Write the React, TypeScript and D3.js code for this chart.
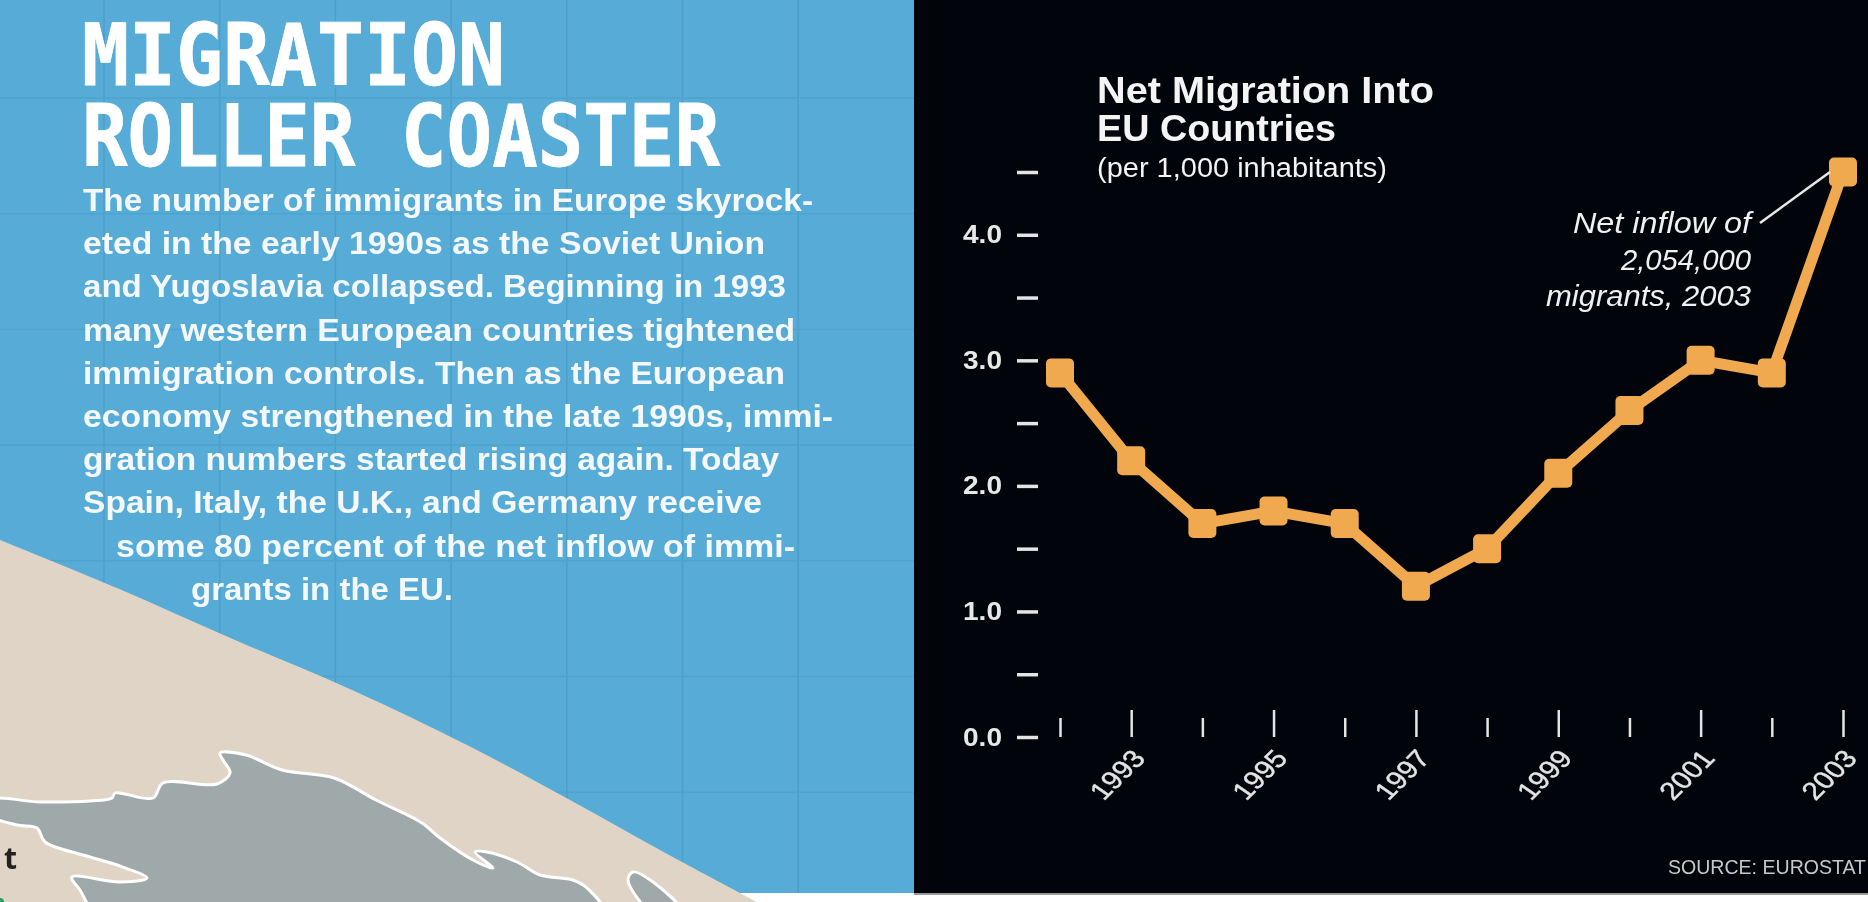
import React, { useEffect, useRef } from 'react';
import * as d3 from 'd3';

// chart values
const years = [1992, 1993, 1994, 1995, 1996, 1997, 1998, 1999, 2000, 2001, 2002, 2003];
const netMigration = [2.9, 2.2, 1.7, 1.8, 1.7, 1.2, 1.5, 2.1, 2.6, 3.0, 2.9, 4.5];
const yTicks = [0, 0.5, 1, 1.5, 2, 2.5, 3, 3.5, 4, 4.5];
const yearLabels = [1993, 1995, 1997, 1999, 2001, 2003];

const titleLines = ['MIGRATION', 'ROLLER COASTER'];
const bodyLines = [
  'The number of immigrants in Europe skyrock-',
  'eted in the early 1990s as the Soviet Union',
  'and Yugoslavia collapsed. Beginning in 1993',
  'many western European countries tightened',
  'immigration controls. Then as the European',
  'economy strengthened in the late 1990s, immi-',
  'gration numbers started rising again. Today',
  'Spain, Italy, the U.K., and Germany receive',
  'some 80 percent of the net inflow of immi-',
  'grants in the EU.',
];
const bodyWidths = [730, 682, 703, 712, 702, 750, 696, 679, 679, 262];
const bodyStarts = [83, 83, 83, 83, 83, 83, 83, 83, 116, 191];
const noteLines = ['Net inflow of', '2,054,000', 'migrants, 2003'];
const noteWidths = [178, 130, 205];

// map outlines for the backdrop
const landEdge: [number, number][] = [
  [0, 540], [117, 588], [235, 640], [352, 690], [469, 746], [570, 800], [660, 850], [757, 902],
];
const seaEdge: [number, number][] = [
  [-10, 800], [40, 802], [90, 801], [112, 798], [115, 793], [153, 798], [163, 783], [217, 784], [230, 773],
  [223, 760], [220, 753], [246, 755], [282, 770], [334, 778], [376, 800], [422, 823], [440, 838], [473, 860],
  [493, 868], [475, 852], [487, 852], [517, 862], [540, 875], [573, 880], [587, 888], [604, 915],
  [100, 915], [80, 890], [72, 877], [120, 882], [147, 878], [117, 865], [83, 855], [45, 842], [37, 828],
  [17, 825], [-10, 815],
];
const islandEdge: [number, number][] = [[628, 880], [633, 872], [653, 882], [685, 915], [655, 915]];

const W = 1868;
const H = 902;
const BLUE = '#56acd6';
const GOLD = '#f0a94f';
const INK = '#02040c';

const App: React.FC = () => {
  const svgRef = useRef<SVGSVGElement>(null);

  useEffect(() => {
    if (!svgRef.current) return;
    const svg = d3.select(svgRef.current);
    svg.selectAll('*').remove();

    svg.append('rect').attr('width', W).attr('height', H).attr('fill', '#fff');

    // left panel
    svg.append('rect').attr('width', 914).attr('height', 893).attr('fill', BLUE);
    const gridX = d3.range(0, 7).map(i => 104 + i * 115.7);
    const gridY = d3.range(0, 7).map(i => 98 + i * 115.7);
    svg.selectAll('line.gx').data(gridX).join('line').attr('class', 'gx')
      .attr('x1', d => d).attr('x2', d => d).attr('y1', 0).attr('y2', 893)
      .attr('stroke', '#4c9fc9').attr('stroke-width', 1.5);
    svg.selectAll('line.gy').data(gridY).join('line').attr('class', 'gy')
      .attr('x1', 0).attr('x2', 914).attr('y1', d => d).attr('y2', d => d)
      .attr('stroke', '#4fa3cd').attr('stroke-width', 1.5);

    const smooth = d3.line().curve(d3.curveCatmullRom.alpha(0.5));
    const closed = d3.line().curve(d3.curveCatmullRomClosed.alpha(0.5));
    svg.append('path').attr('d', smooth(landEdge) + `L757,${H}L0,${H}Z`).attr('fill', '#e0d4c6');
    svg.append('path').attr('d', closed(seaEdge)).attr('fill', '#9fa9a9')
      .attr('stroke', '#fff').attr('stroke-width', 3).attr('stroke-linejoin', 'round');
    svg.append('path').attr('d', closed(islandEdge)).attr('fill', '#9fa9a9')
      .attr('stroke', '#fff').attr('stroke-width', 3).attr('stroke-linejoin', 'round');
    svg.append('text').attr('x', 17).attr('y', 869).attr('text-anchor', 'end')
      .attr('font-family', '"Open Sans"').attr('font-weight', 700).attr('font-size', 30)
      .attr('fill', '#222').text('t');
    svg.append('circle').attr('cx', 0).attr('cy', 902).attr('r', 4).attr('fill', '#2f9e6b');

    // headline and copy
    svg.selectAll('text.title').data(titleLines).join('text').attr('class', 'title')
      .attr('x', 82).attr('y', (_, i) => 85 + i * 81)
      .attr('font-family', '"DejaVu Sans Mono"').attr('font-weight', 700).attr('font-size', 86)
      .attr('textLength', (_, i) => (i === 0 ? 423 : 638)).attr('lengthAdjust', 'spacingAndGlyphs')
      .attr('fill', '#fff').attr('stroke', '#fff').attr('stroke-width', 0.8).text(d => d);
    svg.selectAll('text.body').data(bodyLines).join('text').attr('class', 'body')
      .attr('x', (_, i) => bodyStarts[i]).attr('y', (_, i) => 211 + i * 43.2)
      .attr('font-family', '"Liberation Sans"').attr('font-weight', 700).attr('font-size', 32)
      .attr('textLength', (_, i) => bodyWidths[i]).attr('lengthAdjust', 'spacingAndGlyphs')
      .attr('fill', '#f4f8fa').text(d => d);

    // right panel
    svg.append('rect').attr('x', 914).attr('width', W - 914).attr('height', 893).attr('fill', INK);
    svg.append('rect').attr('x', 914).attr('y', 893).attr('width', W - 914).attr('height', 2).attr('fill', '#9a9a9a');

    const x = d3.scaleLinear().domain([1992, 2003]).range([1060, 1843]);
    const y = d3.scaleLinear().domain([0, 4.5]).range([737, 172]);

    const yAxis = d3.axisLeft(y).tickValues(yTicks).tickSize(21).tickPadding(15)
      .tickFormat(d => (Number.isInteger(+d) ? (+d).toFixed(1) : ''));
    const yG = svg.append('g').attr('transform', 'translate(1038,0)').call(yAxis as any);
    yG.select('.domain').remove();
    yG.selectAll('line').attr('stroke', '#e4e4e4').attr('stroke-width', 3.5);
    yG.selectAll<SVGTextElement, number>('text').filter(d => !Number.isInteger(d)).remove();
    yG.selectAll('text')
      .attr('font-family', '"Liberation Sans"').attr('font-weight', 700).attr('font-size', 25)
      .attr('textLength', 39).attr('lengthAdjust', 'spacingAndGlyphs')
      .attr('fill', '#e8e8e8');

    const xAxis = d3.axisBottom(x).tickValues(years).tickSizeInner(-27).tickSizeOuter(0)
      .tickFormat(d => (yearLabels.includes(+d) ? String(d) : ''));
    const xG = svg.append('g').attr('transform', 'translate(0,737)').call(xAxis as any);
    xG.select('.domain').remove();
    xG.selectAll<SVGLineElement, number>('line')
      .attr('y2', d => (yearLabels.includes(d) ? -27 : -19))
      .attr('stroke', '#e4e4e4').attr('stroke-width', 2.5);
    xG.selectAll<SVGTextElement, number>('text').filter(d => !yearLabels.includes(d)).remove();
    xG.selectAll('text')
      .attr('font-family', '"Liberation Sans"').attr('font-size', 25)
      .attr('fill', '#e4e4e4').attr('stroke', '#e4e4e4').attr('stroke-width', 0.4)
      .attr('text-anchor', 'end')
      .attr('y', 0).attr('dy', 0)
      .attr('transform', 'translate(15,22) scale(1.2,1) rotate(-50)');

    // series
    const line = d3.line<number>().x((_, i) => x(years[i])).y(d => y(d));
    svg.append('path').datum(netMigration).attr('d', line).attr('fill', 'none')
      .attr('stroke', GOLD).attr('stroke-width', 11).attr('stroke-linejoin', 'miter');
    svg.selectAll('rect.pt').data(netMigration).join('rect').attr('class', 'pt')
      .attr('x', (_, i) => x(years[i]) - 14).attr('y', d => y(d) - 14.5)
      .attr('width', 28).attr('height', 29).attr('rx', 5).attr('fill', GOLD);

    // chart heading
    const heading = svg.append('g').attr('fill', '#f4f4f4').attr('font-family', '"Liberation Sans"');
    heading.append('text').attr('x', 1097).attr('y', 103).attr('font-weight', 700).attr('font-size', 36)
      .attr('textLength', 337).attr('lengthAdjust', 'spacingAndGlyphs').text('Net Migration Into');
    heading.append('text').attr('x', 1097).attr('y', 141).attr('font-weight', 700).attr('font-size', 36)
      .attr('textLength', 239).attr('lengthAdjust', 'spacingAndGlyphs').text('EU Countries');
    heading.append('text').attr('x', 1097).attr('y', 177).attr('font-size', 27)
      .attr('textLength', 290).attr('lengthAdjust', 'spacingAndGlyphs').text('(per 1,000 inhabitants)');

    // callout
    svg.selectAll('text.note').data(noteLines).join('text').attr('class', 'note')
      .attr('x', (_, i) => 1751 - noteWidths[i]).attr('y', (_, i) => 233 + i * 36.5)
      .attr('font-family', '"Liberation Sans"').attr('font-style', 'italic').attr('font-size', 30)
      .attr('textLength', (_, i) => noteWidths[i]).attr('lengthAdjust', 'spacingAndGlyphs')
      .attr('fill', '#f0f0f0').text(d => d);
    svg.append('line').attr('x1', 1760).attr('y1', 223).attr('x2', 1830).attr('y2', 172)
      .attr('stroke', '#e8e8e8').attr('stroke-width', 2.5);

    svg.append('text').attr('x', 1668).attr('y', 874)
      .attr('font-family', '"Liberation Sans"').attr('font-size', 21)
      .attr('textLength', 198).attr('lengthAdjust', 'spacingAndGlyphs')
      .attr('fill', '#c8c8c8').text('SOURCE: EUROSTAT');
  }, []);

  return (
    <div style={{ position: 'absolute', left: 0, top: 0 }}>
      <svg ref={svgRef} width={W} height={H} style={{ display: 'block', filter: 'blur(0.7px)' }} />
    </div>
  );
};

export default App;
